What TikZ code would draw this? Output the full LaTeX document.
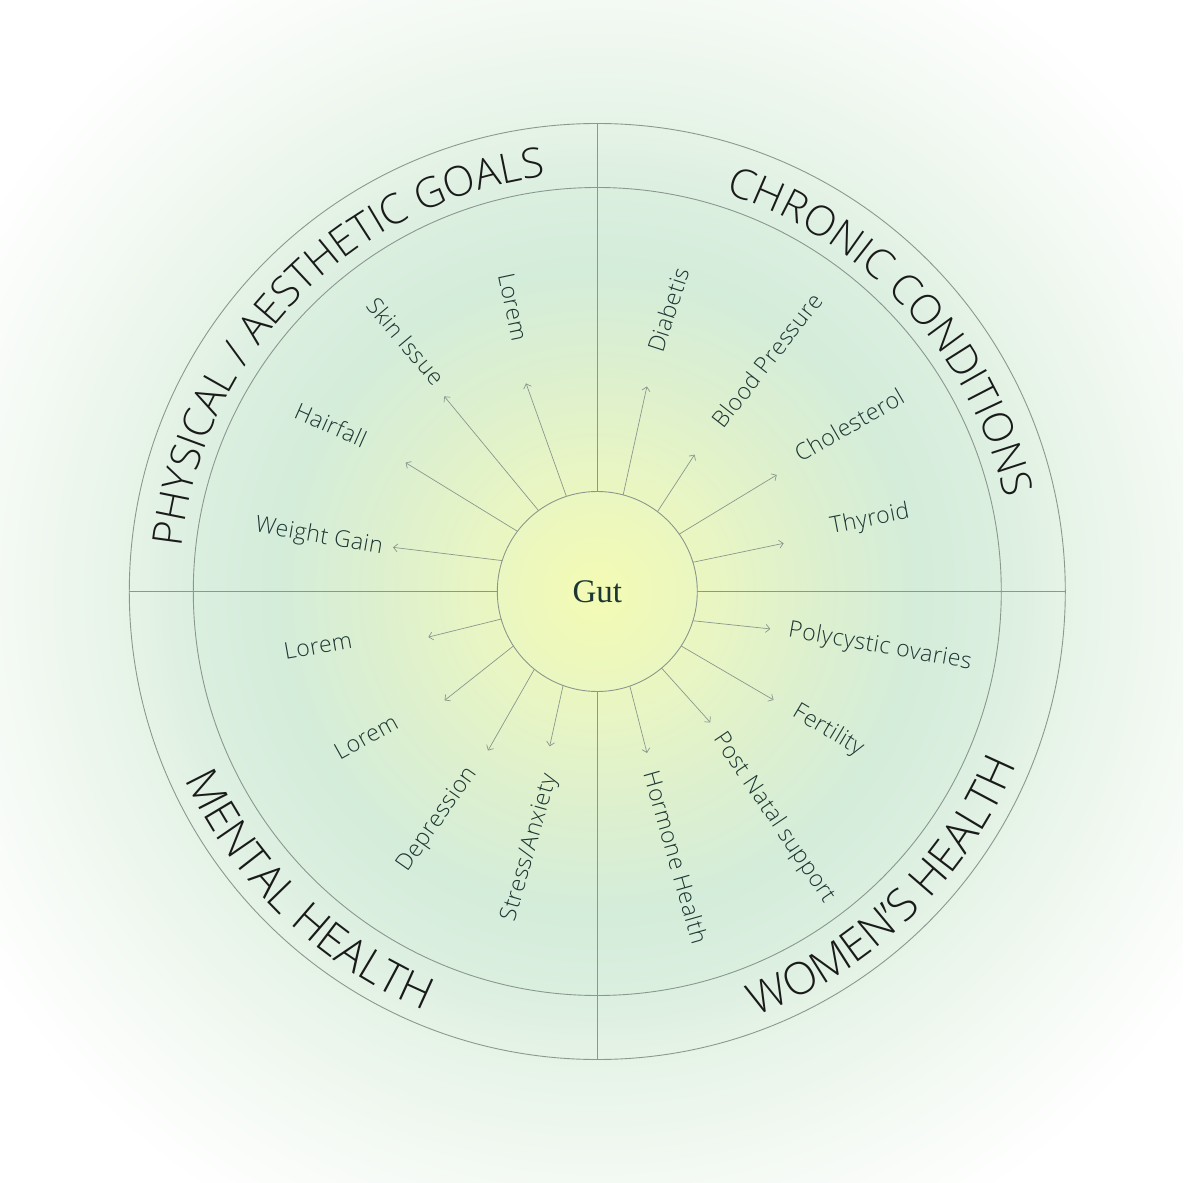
\documentclass[tikz,border=0pt]{standalone}
\usepackage{fontspec}
\usepackage{xcolor}
\usetikzlibrary{arrows.meta,decorations.text}

\newfontfamily\lightfont{Open Sans Light}
\newfontfamily\itemfont{Open Sans Light}[LetterSpace=2.0]
\newfontfamily\gutfont{Liberation Serif}
\newcommand\titlefont{\lightfont\fontsize{41.5}{44}\selectfont}
\newcommand\lowtitlefont{\lightfont\fontsize{44.5}{48}\selectfont}

\definecolor{glowA}{HTML}{F3FBB3}
\definecolor{glowB}{HTML}{EAF6C2}
\definecolor{glowC}{HTML}{DDF0CE}
\definecolor{glowD}{HTML}{D4ECDA}
\definecolor{glowE}{HTML}{DCEFE0}
\definecolor{glowF}{HTML}{E7F4E8}
\definecolor{glowG}{HTML}{EFF7EF}
\definecolor{glowH}{HTML}{F7FBF7}
\definecolor{linegray}{HTML}{8A988E}
\definecolor{itemink}{HTML}{1C3634}
\definecolor{titleink}{HTML}{1A1A1A}

% soft glow behind the wheel (about 25 units per bp)
\pgfdeclareradialshading{glow}{\pgfpoint{0bp}{0bp}}{%
  color(0bp)=(glowA); color(3.9bp)=(glowB); color(7.8bp)=(glowC);
  color(11.5bp)=(glowD); color(14.6bp)=(glowE); color(17.1bp)=(glowF);
  color(19.6bp)=(glowG); color(22.4bp)=(glowH); color(25.8bp)=(white);
  color(71bp)=(white)}

\begin{document}
\begin{tikzpicture}[
  x=1pt, y=1pt,
  ring/.style={draw=linegray, circle, inner sep=0pt, outer sep=0pt, line width=0.9pt},
  hub/.style={ring, font=\gutfont\fontsize{33}{36}\selectfont, text=itemink},
  item/.style={font=\itemfont\fontsize{23}{25}\selectfont, text=itemink, inner sep=0pt},
  spoke/.style={draw=linegray, line width=0.7pt, -{Straight Barb[length=4pt, width=8pt]}},
  divider/.style={draw=linegray, line width=0.9pt},
  title/.style={decorate, decoration={text along path, text align=center, text color=titleink}},
]
\useasboundingbox (-597.3,-591.5) rectangle (585.7,591.5);
\clip (-597.3,-591.5) rectangle (585.7,591.5);
\shade[shading=glow] (-700,-700) rectangle (700,700);

% wheel
\node[ring, minimum size=936pt] (outer) at (0,0) {};
\node[ring, minimum size=808pt] (inner) at (0,0) {};
\node[hub, minimum size=200pt] (gut) at (0,0) {Gut};

\draw[divider] (outer.north) -- (gut.north);
\draw[divider] (outer.south) -- (gut.south);
\draw[divider] (outer.west) -- (gut.west);
\draw[divider] (outer.east) -- (gut.east);

% section titles
\path[title, decoration={text={|\titlefont|PHYSICAL / AESTHETIC GOALS}}]
  (178:418) arc[start angle=178, end angle=93, radius=418];
\path[title, decoration={text={|\titlefont|CHRONIC CONDITIONS}}]
  (87:418) arc[start angle=87, end angle=-2, radius=418];
\path[title, decoration={text={|\lowtitlefont|MENTAL HEALTH}}]
  (181:453) arc[start angle=181, end angle=271, radius=453];
\path[title, decoration={text={|\lowtitlefont|WOMEN’S HEALTH}}]
  (269:453) arc[start angle=269, end angle=359, radius=453];

% physical / aesthetic
\node[item, rotate=-10] (weight) at (-278.3,54.5) {Weight Gain};
\node[item, rotate=-24] (hair) at (-266.3,166.5) {Hairfall};
\node[item, rotate=-50] (skin) at (-191.3,250.5) {Skin Issue};
\node[item, rotate=-78] (loremA) at (-84.3,284.5) {Lorem};
% chronic
\node[item, rotate=72] (diab) at (70.7,281.5) {Diabetis};
\node[item, rotate=52] (blood) at (169.7,231.5) {Blood Pressure};
\node[item, rotate=30] (chol) at (251.7,166.5) {Cholesterol};
\node[item, rotate=11] (thyr) at (272.7,71.5) {Thyroid};
% women
\node[item, rotate=-10] (poly) at (282.7,-55.5) {Polycystic ovaries};
\node[item, rotate=-31] (fert) at (230.7,-139.5) {Fertility};
\node[item, rotate=-56] (natal) at (176.7,-226.5) {Post Natal support};
\node[item, rotate=-74] (horm) at (78.7,-265.5) {Hormone Health};
% mental
\node[item, rotate=74] (stress) at (-67.3,-256.5) {Stress/Anxiety};
\node[item, rotate=55] (depr) at (-159.3,-228.5) {Depression};
\node[item, rotate=29] (loremB) at (-231.3,-145.5) {Lorem};
\node[item, rotate=10] (loremC) at (-279.3,-54.5) {Lorem};

% arrow tips
\coordinate (weighttip) at (167.8:209);
\coordinate (hairtip) at (146.1:231);
\coordinate (skintip) at (128.1:248);
\coordinate (loremAtip) at (108.9:220);
\coordinate (diabtip) at (76.4:211);
\coordinate (bloodtip) at (54.6:168);
\coordinate (choltip) at (33:214);
\coordinate (thyrtip) at (14.5:192.5);
\coordinate (polytip) at (347.8:177);
\coordinate (ferttip) at (328.4:207);
\coordinate (nataltip) at (310.8:173);
\coordinate (hormtip) at (287.1:169);
\coordinate (stresstip) at (252.9:162);
\coordinate (deprtip) at (235.5:193);
\coordinate (loremBtip) at (215.5:187.6);
\coordinate (loremCtip) at (195.1:175);

\draw[spoke] (gut.162.3) -- (weighttip);
\draw[spoke] (gut.143.8) -- (hairtip);
\draw[spoke] (gut.126.5) -- (skintip);
\draw[spoke] (gut.108.6) -- (loremAtip);
\draw[spoke] (gut.75.3) -- (diabtip);
\draw[spoke] (gut.53.3) -- (bloodtip);
\draw[spoke] (gut.35.4) -- (choltip);
\draw[spoke] (gut.17.1) -- (thyrtip);
\draw[spoke] (gut.343.4) -- (polytip);
\draw[spoke] (gut.327.3) -- (ferttip);
\draw[spoke] (gut.310.4) -- (nataltip);
\draw[spoke] (gut.289.5) -- (hormtip);
\draw[spoke] (gut.250.5) -- (stresstip);
\draw[spoke] (gut.231.6) -- (deprtip);
\draw[spoke] (gut.213.5) -- (loremBtip);
\draw[spoke] (gut.196.6) -- (loremCtip);
\end{tikzpicture}
\end{document}
